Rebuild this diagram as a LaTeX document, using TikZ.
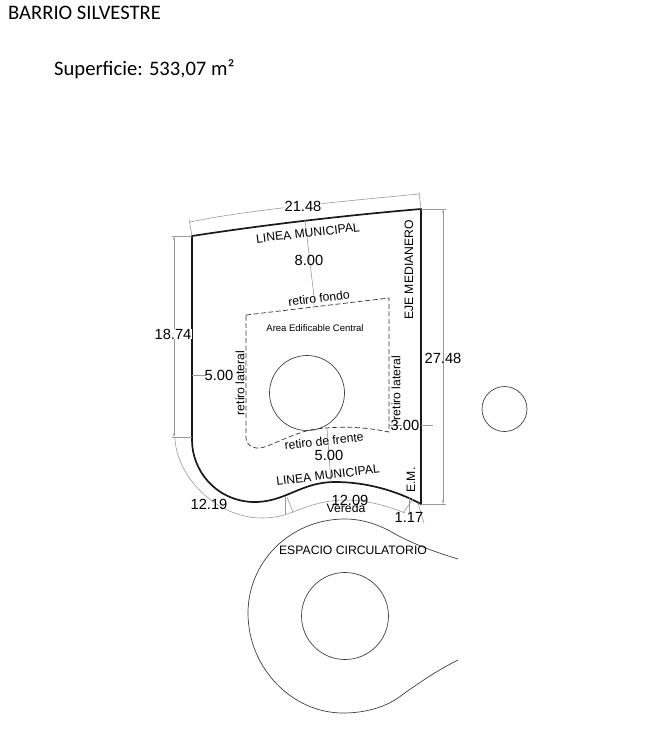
\documentclass[tikz,border=0pt]{standalone}
\usepackage{fontspec}
\setmainfont{Liberation Sans}
\newfontfamily\headfont{Carlito}
\usetikzlibrary{arrows.meta}

\begin{document}
\begin{tikzpicture}[x=1pt, y=-1pt, >={Stealth[length=4pt,width=2pt]},
   lot/.style={line width=1.7pt, black!90},
   edif/.style={line width=0.7pt, dash pattern=on 5pt off 2.5pt, black!80},
   plain/.style={line width=0.7pt, black!75},
   dimline/.style={line width=0.6pt, black!40},
   head/.style={font=\headfont\fontsize{20.6}{22}\selectfont, anchor=west, inner sep=0pt},
   dimtxt/.style={font=\fontsize{14.7}{16}\selectfont, inner sep=0pt},
   lbl/.style={font=\fontsize{12.2}{13}\selectfont, inner sep=0pt}]
   \useasboundingbox (0,0) rectangle (658,739);
   % titles
   \node (barrio) at (8,13) [head] {BARRIO SILVESTRE};
   \node (sup) at (54,69) [head] {Superficie: 533,07 m²};
   % lot
   \coordinate (tl) at (192,236);
   \coordinate (tr) at (421,209);
   \coordinate (br) at (421,504);
   \coordinate (cl) at (192,440);
   \draw[lot] (tl) .. controls (270,224) and (350,215) .. (tr) -- (br)
      .. controls (395,490) and (365,482) .. (335,482)
      .. controls (300,482) and (285,503) .. (252,502)
      .. controls (215,500) and (192,470) .. (cl) -- cycle;
   % buildable area
   \coordinate (etl) at (246,315);
   \coordinate (etr) at (389,298);
   \coordinate (ebr) at (389,432);
   \coordinate (ebl) at (246,438);
   \draw[edif] (etl) -- (etr) -- (ebr) .. controls (360,426) and (335,426) .. (310,430)
      .. controls (285,436) and (265,450) .. (256,448)
      .. controls (250,447) and (246,443) .. (ebl) -- cycle;
   % circles
   \draw[plain] (307,393) circle[radius=37.5];
   \draw[plain] (504.5,409) circle[radius=22.5];
   \draw[plain] (345,616) circle[radius=43.5];
   \draw[plain] (458,559) .. controls (425,549) and (405,540) .. (388,530)
      .. controls (372,522) and (358,519) .. (345,519)
      .. controls (290,519) and (248,562) .. (248,613)
      .. controls (248,668) and (292,713) .. (343,713)
      .. controls (368,713) and (388,706) .. (402,695)
      .. controls (420,682) and (438,670) .. (458,660);
   % dimensions
   \coordinate (d1) at (190,222);
   \coordinate (d2) at (419,194);
   \draw[dimline] (d1) .. controls (230,214) and (270,208) .. (d2);
   \draw[dimline] (tl) -- (189,219);
   \draw[dimline] (tr) -- (419,192);
   \coordinate (d3) at (174,236);
   \coordinate (d4) at (174,437);
   \draw[dimline, <->] (d3) -- (d4);
   \draw[dimline] (tl) -- (172,236);
   \draw[dimline] (192,437) -- (172,437);
   \coordinate (d5) at (443,209);
   \coordinate (d6) at (443,504);
   \draw[dimline, <->] (d5) -- (d6);
   \draw[dimline] (tr) -- (446,209);
   \draw[dimline] (br) -- (446,504);
   \draw[dimline] (175,438) .. controls (176,475) and (215,518) .. (262,518)
      .. controls (275,518) and (285,515) .. (293,512);
   \draw[dimline] (293,512) .. controls (320,501) and (335,500) .. (345,500)
      .. controls (365,500) and (385,505) .. (405,513);
   \draw[dimline] (285,497) -- (285,514);
   \draw[dimline] (287,497) -- (293,512);
   \draw[dimline] (413,499) -- (403,513);
   \draw[dimline] (409,498) -- (409,514);
   \draw[dimline] (418,503) -- (424,523);
   \draw[dimline] (305,220) -- (315,305);
   \draw[dimline] (192,375) -- (206,375);
   \draw[dimline] (389,425) -- (402,425);
   \draw[dimline] (421,425) -- (433,425);
   \draw[dimline] (327,428) -- (331,482);
   % labels
   \node (n2148) at (303,206) [dimtxt, fill=white, inner xsep=1pt] {21.48};
   \node (n1874) at (173,334) [dimtxt, fill=white, inner xsep=0.5pt] {18.74};
   \node (n2748) at (443,358) [dimtxt] {27.48};
   \node (n800) at (309,260) [dimtxt] {8.00};
   \node (n500a) at (219,375) [dimtxt] {5.00};
   \node (n500b) at (329,455) [dimtxt] {5.00};
   \node (n300) at (405,425) [dimtxt] {3.00};
   \node (n1219) at (209,504) [dimtxt] {12.19};
   \node (n1209) at (350,500) [dimtxt] {12.09};
   \node (n117) at (409,517) [dimtxt] {1.17};
   \node (lm1) at (308,233) [lbl, rotate=6.5] {LINEA MUNICIPAL};
   \node (lm2) at (328,475) [lbl, rotate=7] {LINEA MUNICIPAL};
   \node (eje) at (409,270) [lbl, rotate=90] {EJE MEDIANERO};
   \node (em) at (411,480) [lbl, rotate=90] {E.M.};
   \node (fondo) at (319,298) [lbl, rotate=7] {retiro fondo};
   \node (frente) at (324,441) [lbl, rotate=6] {retiro de frente};
   \node (ll) at (240,383) [lbl, rotate=90] {retiro lateral};
   \node (lr) at (396,388) [lbl, rotate=90] {retiro lateral};
   \node (area) at (315,328) [font=\fontsize{9.5}{11}\selectfont, inner sep=0pt] {Area Edificable Central};
   \node (vereda) at (346,508) [lbl] {Vereda};
   \node (espacio) at (353,550) [lbl] {ESPACIO CIRCULATORIO};
\end{tikzpicture}
\end{document}
